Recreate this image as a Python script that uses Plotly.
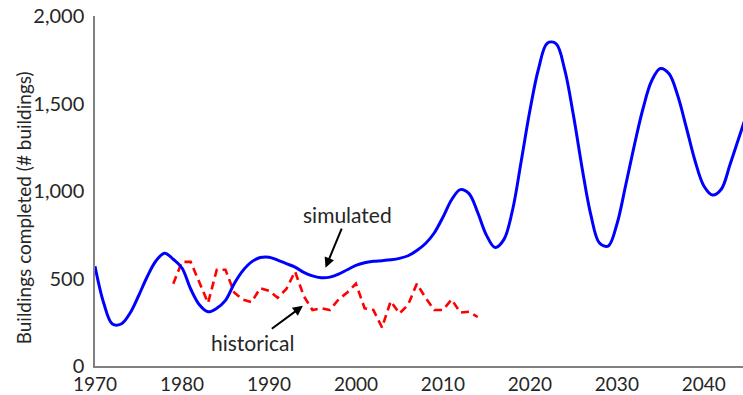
import plotly.graph_objects as go

sim_years = list(range(1970, 2046))
sim_values = [570, 360, 240, 240, 300, 400, 510, 600, 645, 610,
              560, 440, 350, 310, 330, 375, 470, 545, 595, 620,
              622, 605, 585, 565, 535, 515, 505, 508, 525, 550,
              575, 590, 598, 602, 607, 615, 630, 660, 700, 760,
              850, 950, 1008, 985, 877, 748, 677, 722, 890, 1170,
              1460, 1700, 1845, 1842, 1693, 1434, 1132, 865, 703, 685,
              810, 1030, 1260, 1470, 1630, 1700, 1670, 1544, 1360, 1170,
              1029, 977, 1010, 1150, 1300, 1450]

hist_years = list(range(1979, 2015))
hist_values = [470, 595, 595, 480, 360, 550, 550, 420, 380, 365,
               445, 430, 390, 440, 540, 400, 320, 330, 320, 380,
               420, 470, 330, 320, 220, 370, 300, 350, 470, 390,
               320, 320, 380, 305, 310, 280]

y_ticks = [0, 500, 1000, 1500, 2000]
x_ticks = [1970, 1980, 1990, 2000, 2010, 2020, 2030, 2040]

FONT = "Lato"
TXT = "#262626"
L, T, B = 95, 16, 26
PW, PH = 743 - L, 395 - T - B

fig = go.Figure()
fig.add_trace(go.Scatter(x=hist_years, y=hist_values, mode="lines",
                         line=dict(color="#ff0000", width=2.6, dash="8px,5px"),
                         name="historical"))
fig.add_trace(go.Scatter(x=sim_years, y=sim_values, mode="lines",
                         line=dict(color="#0000ff", width=3, shape="spline", smoothing=1.0),
                         name="simulated"))

fig.update_layout(
    width=743, height=395,
    margin=dict(l=L, r=0, t=T, b=B),
    plot_bgcolor="white", paper_bgcolor="white",
    showlegend=False,
    font=dict(family=FONT, size=19, color=TXT),
    xaxis=dict(range=[1970, 2044.5], tickvals=x_ticks, showgrid=False, zeroline=False,
               showline=True, linecolor="#808080", linewidth=1.5, ticks="",
               tickfont=dict(size=19)),
    yaxis=dict(range=[0, 2000], tickvals=y_ticks, tickformat=",", showgrid=False,
               zeroline=False, showline=True, linecolor="#808080", linewidth=1.5,
               ticks="", tickfont=dict(size=20), ticklabelstandoff=5),
    annotations=[
        dict(x=(23 - L) / PW, y=(369 - 210) / PH, xref="paper", yref="paper",
             text="Buildings completed (# buildings)", showarrow=False, textangle=-90,
             xanchor="center", yanchor="middle", font=dict(size=19, color=TXT)),
        dict(x=1996.5, y=562, xref="x", yref="y", text="simulated", showarrow=True,
             ax=22, ay=-53, arrowhead=2, arrowsize=1, arrowwidth=2, arrowcolor="black",
             font=dict(size=21, color=TXT)),
        dict(x=1993.9, y=344, xref="x", yref="y", text="historical", showarrow=True,
             ax=-50, ay=37, arrowhead=2, arrowsize=1, arrowwidth=2, arrowcolor="black",
             font=dict(size=21, color=TXT)),
    ],
)

fig.write_html("out.html")
